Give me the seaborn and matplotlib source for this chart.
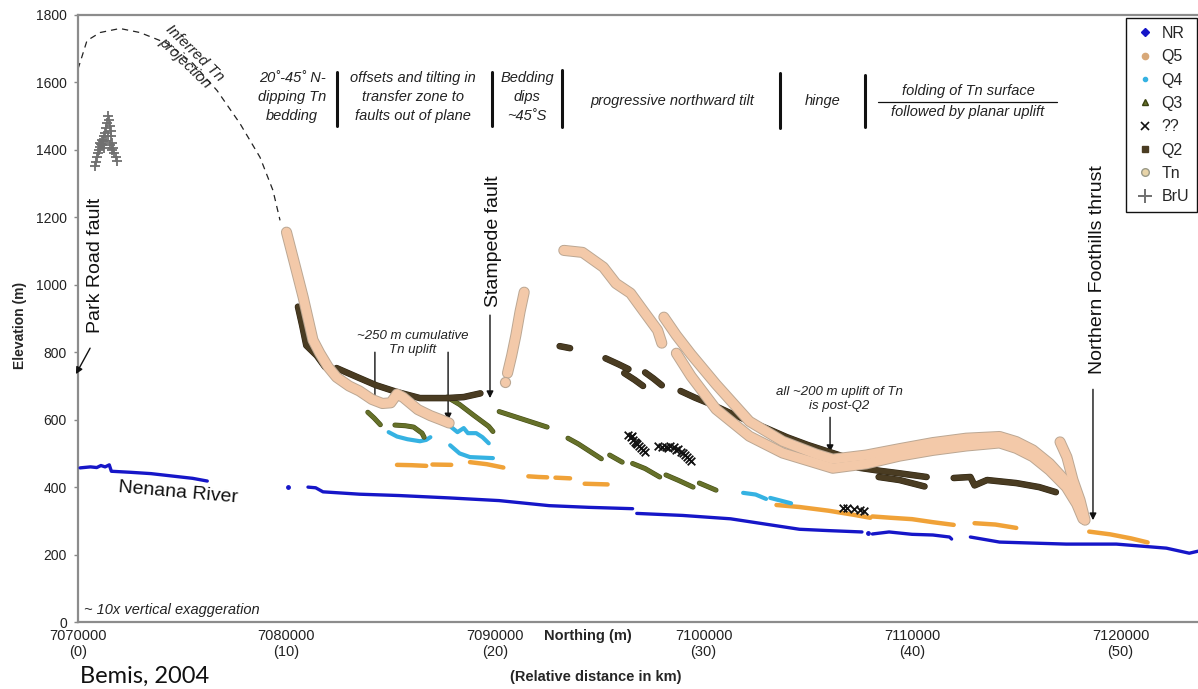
import numpy as np
import pandas as pd
import matplotlib
matplotlib.use("Agg")
import matplotlib.pyplot as plt
from matplotlib.lines import Line2D
import seaborn as sns

# ---------------- data: (relative distance in km, elevation in m) ----------------
ORIGIN = 7070000
XTICK_KM = [0, 10, 20, 30, 40, 50]
YTICKS = [0, 200, 400, 600, 800, 1000, 1200, 1400, 1600, 1800]

NR_SEGS = [
    ([0.1, 0.6, 0.9, 1.1, 1.3, 1.5, 1.6, 2.5, 3.5, 4.5, 5.5, 6.2],
     [457, 460, 458, 464, 460, 466, 447, 444, 440, 433, 426, 418]),
    ([10.07], [400]),
    ([11.03, 11.4, 11.75, 12.5, 13.5, 15.4, 17.8, 20.2, 22.6, 24.5, 26.6],
     [400, 398, 386, 383, 379, 375, 368, 360, 345, 340, 336]),
    ([26.8, 29.0, 31.3, 33.0, 34.6, 36.0, 37.6], [322, 316, 306, 290, 275, 271, 267]),
    ([37.9], [265]),
    ([38.1, 38.9, 40.0, 41.0, 41.8, 41.9], [261, 267, 260, 258, 252, 246]),
    ([42.8, 44.2, 45.8, 47.4, 49.8, 52.2, 53.3, 53.72], [252, 237, 234, 231, 231, 219, 204, 210]),
]
Q5_SEGS = [
    ([15.3, 16.0, 16.7], [466, 465, 463]),
    ([17.0, 17.9], [467, 466]),
    ([18.8, 19.6, 20.4], [474, 468, 458]),
    ([21.6, 22.1, 22.5], [432, 430, 429]),
    ([22.9, 23.6], [428, 426]),
    ([24.3, 25.4], [410, 408]),
    ([33.5, 34.6, 36.0, 37.2, 38.0], [347, 341, 330, 318, 309]),
    ([38.1, 39.0, 40.0, 41.0, 42.0], [313, 309, 305, 296, 288]),
    ([43.0, 44.0, 45.0], [293, 289, 279]),
    ([48.5, 49.5, 50.5, 51.3], [268, 260, 248, 236]),
]
Q4_SEGS = [
    ([14.9, 15.3, 15.8, 16.4, 16.7, 16.9], [563, 550, 542, 536, 540, 548]),
    ([17.9, 18.2, 18.5, 18.7, 19.1, 19.4, 19.7], [578, 563, 575, 560, 560, 548, 530]),
    ([17.85, 18.3, 18.8, 19.9], [524, 500, 489, 486]),
    ([31.9, 32.5, 33.0], [383, 378, 365]),
    ([33.2, 33.7, 34.2], [368, 360, 352]),
]
Q3_SEGS = [
    ([13.9, 14.2, 14.5], [622, 605, 585]),
    ([15.2, 15.7, 16.1, 16.5, 16.6], [584, 582, 578, 560, 548]),
    ([17.7, 18.3, 19.0, 19.7, 19.9], [667, 645, 612, 580, 565]),
    ([20.2, 21.0, 21.8, 22.5], [624, 608, 592, 578]),
    ([23.5, 24.0, 24.5, 25.1], [545, 528, 508, 484]),
    ([25.5, 26.1], [495, 474]),
    ([26.6, 27.2, 27.9], [470, 455, 430]),
    ([28.2, 28.8, 29.5], [436, 420, 400]),
    ([29.8, 30.6], [412, 391]),
]
UNK_KM = [26.4, 26.5, 26.55, 26.6, 26.7, 26.75, 26.8, 26.9, 27.0, 27.1, 27.2,
          27.8, 28.0, 28.2, 28.3, 28.4, 28.6, 28.7, 28.8, 28.9, 29.0, 29.1, 29.2, 29.3, 29.4,
          36.7, 36.9, 37.2, 37.5, 37.7]
UNK_M = [555, 548, 552, 540, 535, 530, 528, 522, 515, 510, 505,
         522, 520, 518, 515, 522, 518, 510, 512, 505, 500, 495, 488, 482, 476,
         338, 337, 336, 332, 330]
Q2_SEGS = [
    ([10.55, 10.75, 10.95, 11.45, 11.85], [935, 880, 820, 790, 756]),
    ([12.4, 13.4, 14.3, 15.3, 16.4, 17.7, 18.5, 19.3], [753, 726, 702, 682, 664, 664, 667, 678]),
    ([23.1, 23.6], [818, 812]),
    ([25.3, 25.9, 26.4], [782, 765, 750]),
    ([26.2, 26.7, 27.1], [738, 718, 700]),
    ([27.2, 27.6, 28.0], [740, 722, 702]),
    ([28.9, 29.6, 30.4, 31.2, 32.0, 33.0, 34.0, 35.0, 36.0, 37.0],
     [685, 665, 645, 622, 600, 575, 548, 525, 505, 485]),
    ([37.4, 38.5, 39.4, 40.7], [458, 448, 441, 430]),
    ([38.4, 39.4, 40.6], [430, 421, 402]),
    ([42.0, 42.8, 43.0, 43.6, 45.0, 46.1, 46.9], [427, 430, 405, 421, 412, 400, 385]),
]
TN_SEGS = [
    ([10.0, 10.4, 10.8, 11.27, 11.6, 12.0, 12.4, 13.0, 13.5, 14.1, 14.6, 15.0, 15.3, 15.6,
      16.3, 16.9, 17.4, 17.8],
     [1156, 1060, 963, 836, 797, 756, 726, 700, 685, 660, 648, 650, 676, 666, 630, 612, 600, 590]),
    ([20.5], [711]),
    ([20.6, 20.8, 21.0, 21.2, 21.4], [738, 790, 850, 920, 978]),
    ([23.3, 24.2, 25.2, 25.8, 26.5, 27.1, 27.8, 28.0], [1102, 1096, 1052, 1004, 975, 924, 865, 827]),
    ([28.1, 28.7, 29.4, 30.6, 32.2, 33.8, 35.4, 36.2, 37.8, 39.4, 41.0, 42.6, 44.2, 45.0, 45.8,
      46.6, 47.4, 47.9, 48.2],
     [904, 850, 794, 705, 595, 536, 498, 483, 495, 514, 532, 545, 550, 535, 510, 470, 416, 362, 318]),
    ([28.7, 29.4, 30.6, 32.2, 33.8, 35.4, 36.2, 37.8, 39.4, 41.0, 42.6, 44.2, 45.0, 45.8, 46.6,
      47.4, 47.9, 48.2],
     [797, 729, 631, 551, 501, 471, 456, 469, 492, 509, 522, 531, 515, 490, 450, 400, 350, 306]),
    ([47.1, 47.43, 47.72, 48.06, 48.3], [534, 489, 421, 361, 302]),
]
BRU_KM = [0.80, 0.85, 0.90, 0.95, 1.00, 1.05, 1.10, 1.15, 1.20, 1.25, 1.30, 1.35, 1.40, 1.44,
          1.48, 1.52, 1.56, 1.60, 1.65, 1.70, 1.75, 1.80, 1.85, 1.05, 1.15, 1.25, 1.35, 1.45,
          1.55, 1.65]
BRU_M = [1352, 1365, 1380, 1392, 1400, 1410, 1418, 1415, 1425, 1440, 1450, 1465, 1480, 1500,
         1490, 1470, 1455, 1440, 1420, 1405, 1390, 1378, 1368, 1420, 1430, 1405, 1425, 1440,
         1415, 1400]
PROJ_KM = [0.0, 0.1, 0.43, 1.06, 2.01, 2.97, 4.27, 5.52, 6.67, 7.77, 8.73, 9.35, 9.69]
PROJ_M = [1640, 1659, 1724, 1748, 1760, 1748, 1716, 1656, 1576, 1478, 1378, 1280, 1191]

SERIES = ["NR", "Q5", "Q4", "Q3", "??", "Q2", "Tn", "BrU"]

# ---------------- styling ----------------
C_NR, C_Q5, C_Q4, C_Q3, C_UNK, C_Q2 = "#1616c8", "#f0a238", "#35b2e2", "#66712a", "#111111", "#4a3c22"
C_TN, C_TN_EDGE, C_BRU = "#f3c9a9", "#bba793", "#707070"

sns.set_theme(style="white")
plt.rcParams["font.family"] = ["Liberation Sans", "DejaVu Sans"]

W, H = 1198, 689
fig = plt.figure(figsize=(W / 100, H / 100), dpi=100)
ax = fig.add_axes([78 / W, 1 - 622 / H, 1120 / W, 607 / H])


def F(px, py):
    return (px / W, 1 - py / H)


def frame(segs):
    rows = []
    for i, (k, e) in enumerate(segs):
        for a, b in zip(k, e):
            rows.append((i, ORIGIN + a * 1000, b))
    return pd.DataFrame(rows, columns=["seg", "northing", "elev"])


def draw(segs, color, lw, z, edge=None, edge_extra=1.4):
    multi = [s for s in segs if len(s[0]) > 1]
    single = [s for s in segs if len(s[0]) == 1]
    df = frame(multi)
    if edge is not None:
        sns.lineplot(data=df, x="northing", y="elev", units="seg", estimator=None, sort=False,
                     color=edge, lw=lw + edge_extra, ax=ax, legend=False, zorder=z,
                     solid_capstyle="round", solid_joinstyle="round")
    sns.lineplot(data=df, x="northing", y="elev", units="seg", estimator=None, sort=False,
                 color=color, lw=lw, ax=ax, legend=False, zorder=z + 0.1,
                 solid_capstyle="round", solid_joinstyle="round")
    if single:
        ds = frame(single)
        sns.scatterplot(data=ds, x="northing", y="elev", color=color, s=(lw * 1.1) ** 2,
                        edgecolor=edge if edge else color, linewidth=0.8, ax=ax,
                        legend=False, zorder=z + 0.2)


# inferred projection
proj = pd.DataFrame({"northing": [ORIGIN + k * 1000 for k in PROJ_KM], "elev": PROJ_M})
sns.lineplot(data=proj, x="northing", y="elev", sort=False, estimator=None, color="#222222",
             lw=0.9, ax=ax, legend=False, zorder=2, dashes=False, linestyle=(0, (5, 4)))

draw(NR_SEGS, C_NR, 2.4, 3)
draw(Q5_SEGS, C_Q5, 3.2, 4)
draw(Q4_SEGS, C_Q4, 3.0, 5)
draw(Q3_SEGS, C_Q3, 2.8, 6, edge="#434b14", edge_extra=0.8)
unk = pd.DataFrame({"northing": [ORIGIN + k * 1000 for k in UNK_KM], "elev": UNK_M})
sns.scatterplot(data=unk, x="northing", y="elev", marker="x", color=C_UNK, s=30,
                linewidth=1.3, ax=ax, legend=False, zorder=7)
draw(Q2_SEGS, C_Q2, 3.9, 8, edge="#2e2412", edge_extra=0.8)
draw(TN_SEGS, C_TN, 6.6, 9, edge=C_TN_EDGE, edge_extra=1.4)
bru = pd.DataFrame({"northing": [ORIGIN + k * 1000 for k in BRU_KM], "elev": BRU_M})
sns.scatterplot(data=bru, x="northing", y="elev", marker="+", color=C_BRU, s=60,
                linewidth=1.3, ax=ax, legend=False, zorder=10)

# ---------------- axes ----------------
ax.set_xlim(ORIGIN, ORIGIN + 1120 / 20.85 * 1000)
ax.set_ylim(0, 1800)
ax.set_xticks([ORIGIN + k * 1000 for k in XTICK_KM])
ax.set_xticklabels([f"{ORIGIN + k * 1000}\n({k})" for k in XTICK_KM], fontsize=10.5,
                   color="#222222", linespacing=1.15)
ax.set_yticks(YTICKS)
ax.set_yticklabels([str(v) for v in YTICKS], fontsize=10, color="#222222")
ax.tick_params(axis="x", length=0, pad=5)
ax.tick_params(axis="y", length=3, width=1, color="#888888", pad=5, left=True)
ax.set_xlabel("")
ax.set_ylabel("")
for side in ["left", "bottom", "top"]:
    ax.spines[side].set_color("#8c8c8c")
    ax.spines[side].set_linewidth(1.6)
ax.spines["right"].set_visible(False)
ax.grid(False)

fig.text(*F(20, 325), "Elevation (m)", rotation=90, ha="center", va="center",
         fontsize=10, weight="bold")
fig.text(*F(588, 636), "Northing (m)", ha="center", va="center", fontsize=10.5, weight="bold")
fig.text(*F(596, 677), "(Relative distance in km)", ha="center", va="center",
         fontsize=10.5, weight="bold")
fig.text(*F(80, 683), "Bemis, 2004", ha="left", va="baseline", fontsize=17,
         family=["Lato", "DejaVu Sans"], color="#111111")

# ---------------- annotations ----------------
it = dict(style="italic", color="#222222")
fig.text(*F(292, 97), "20˚-45˚ N-\ndipping Tn\nbedding", ha="center", va="center",
         fontsize=10.5, linespacing=1.45, **it)
fig.text(*F(413, 97), "offsets and tilting in\ntransfer zone to\nfaults out of plane",
         ha="center", va="center", fontsize=10.5, linespacing=1.45, **it)
fig.text(*F(527, 97), "Bedding\ndips\n~45˚S", ha="center", va="center", fontsize=10.5,
         linespacing=1.45, **it)
fig.text(*F(672, 101), "progressive northward tilt", ha="center", va="center",
         fontsize=10.5, **it)
fig.text(*F(823, 101), "hinge", ha="center", va="center", fontsize=10.5, **it)
fig.text(*F(968, 91), "folding of Tn surface", ha="center", va="center", fontsize=10.5, **it)
fig.text(*F(968, 112), "followed by planar uplift", ha="center", va="center",
         fontsize=10.5, **it)
fig.add_artist(Line2D([878 / W, 1057 / W], [1 - 102 / H, 1 - 102 / H], color="#111111", lw=0.9))
for bx, y0, y1 in [(337, 72, 126), (492, 72, 126), (562, 70, 127), (780, 73, 128),
                   (865, 75, 127)]:
    fig.add_artist(Line2D([bx / W, bx / W], [1 - y0 / H, 1 - y1 / H], color="#111111", lw=2.2))

fig.text(*F(190, 58), "Inferred Tn\nprojection", ha="center", va="center", rotation=-44,
         fontsize=11, linespacing=1.0, rotation_mode="anchor", **it)
fig.text(*F(84, 610), "~ 10x vertical exaggeration", ha="left", va="center", fontsize=10.5, **it)
fig.text(*F(178, 493), "Nenana River", ha="center", va="center", fontsize=14, rotation=-5,
         color="#111111")

arrow = dict(arrowstyle="-|>", color="#111111", lw=1.0, mutation_scale=10, shrinkA=0, shrinkB=0)
fig.text(*F(95, 265), "Park Road fault", rotation=90, ha="center", va="center", fontsize=14,
         color="#111111")
ax.annotate("", xy=(ORIGIN - 100, 735), xytext=(ORIGIN + 580, 812), arrowprops=arrow,
            annotation_clip=False)
fig.text(*F(493, 241), "Stampede fault", rotation=90, ha="center", va="center", fontsize=14,
         color="#111111")
ax.annotate("", xy=(ORIGIN + 19760, 664), xytext=(ORIGIN + 19760, 910), arrowprops=arrow)
fig.text(*F(1097, 270), "Northern Foothills thrust", rotation=90, ha="center", va="center",
         fontsize=14, color="#111111")
ax.annotate("", xy=(ORIGIN + 48680, 302), xytext=(ORIGIN + 48680, 690), arrowprops=arrow)

fig.text(*F(413, 343), "~250 m cumulative\nTn uplift", ha="center", va="center",
         fontsize=9.5, linespacing=1.3, **it)
ax.annotate("", xy=(ORIGIN + 14240, 643), xytext=(ORIGIN + 14240, 800), arrowprops=arrow)
ax.annotate("", xy=(ORIGIN + 17750, 598), xytext=(ORIGIN + 17750, 800), arrowprops=arrow)
fig.text(*F(839, 399), "all ~200 m uplift of Tn\nis post-Q2", ha="center", va="center",
         fontsize=9.5, linespacing=1.3, **it)
ax.annotate("", xy=(ORIGIN + 36070, 504), xytext=(ORIGIN + 36070, 607), arrowprops=arrow)

# ---------------- legend ----------------
handles = [
    Line2D([], [], ls="", marker="D", markersize=4, color=C_NR),
    Line2D([], [], ls="", marker="o", markersize=4.5, color="#d8a878"),
    Line2D([], [], ls="", marker="o", markersize=3, color=C_Q4),
    Line2D([], [], ls="", marker="^", markersize=5, color=C_Q3, markeredgecolor="#3a4210"),
    Line2D([], [], ls="", marker="x", markersize=5.5, color=C_UNK, markeredgewidth=1.2),
    Line2D([], [], ls="", marker="s", markersize=5, color=C_Q2),
    Line2D([], [], ls="", marker="o", markersize=5.5, markerfacecolor="#e8d4a8",
           markeredgecolor="#9a9a88"),
    Line2D([], [], ls="", marker="+", markersize=10, color=C_BRU, markeredgewidth=1.4),
]
leg = fig.legend(handles, SERIES, loc="upper right", bbox_to_anchor=F(1197, 18),
                 fontsize=11.5, frameon=True, fancybox=False, edgecolor="#111111",
                 framealpha=1, borderpad=0.5, labelspacing=0.52, handlelength=1.3,
                 handletextpad=0.4, borderaxespad=0)
leg.get_frame().set_linewidth(1.0)

fig.savefig("out.png", dpi=100)
